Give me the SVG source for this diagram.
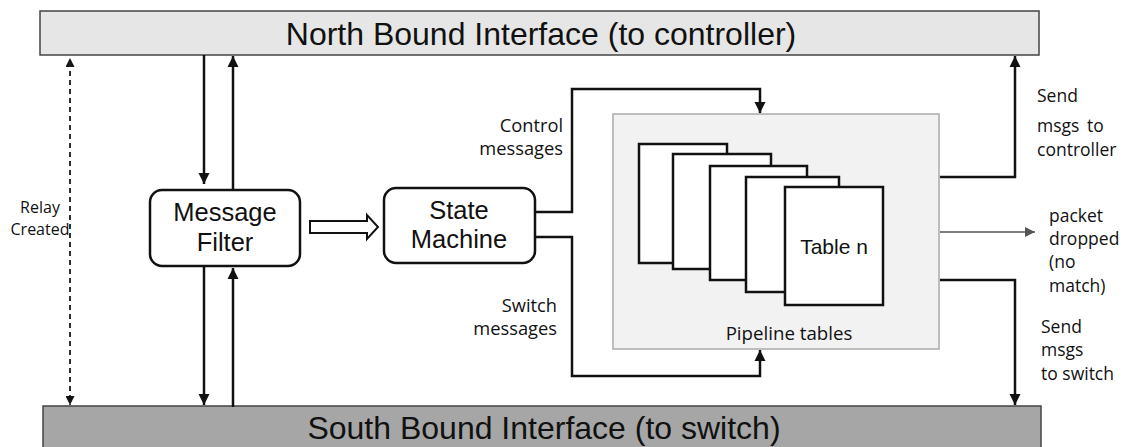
<svg xmlns="http://www.w3.org/2000/svg" width="1127" height="447" viewBox="0 0 1127 447">
<defs>
<style>
.bar-n{fill:#e6e6e6;stroke:#444;stroke-width:1.5}
.bar-s{fill:#a6a6a6;stroke:#444;stroke-width:1.5}
.title{font-family:"Liberation Sans",Arial,sans-serif;font-size:32px;fill:#111;text-anchor:middle}
.box{fill:#fff;stroke:#111;stroke-width:2.5}
.boxt{font-family:"Liberation Sans",Arial,sans-serif;font-size:25.5px;fill:#111;text-anchor:middle}
.lbl{font-family:"Open Sans","Noto Sans",sans-serif;font-size:17.5px;fill:#111}
.rl{font-size:16px;text-anchor:middle}
.ml{font-size:18.3px;text-anchor:end}
.ln{fill:none;stroke:#111;stroke-width:2.5}
.tbl{fill:#fff;stroke:#111;stroke-width:2.5}
</style>
<marker id="ah" viewBox="0 0 10 10" refX="10" refY="5" markerWidth="11" markerHeight="13" markerUnits="userSpaceOnUse" orient="auto">
<path d="M0,0 L10,5 L0,10 z" fill="#111"/>
</marker>
<marker id="ahs" viewBox="0 0 10 10" refX="10" refY="5" markerWidth="9" markerHeight="9" markerUnits="userSpaceOnUse" orient="auto">
<path d="M0,0 L10,5 L0,10 z" fill="#111"/>
</marker>
<marker id="ahg" viewBox="0 0 10 10" refX="10" refY="5" markerWidth="14" markerHeight="10" markerUnits="userSpaceOnUse" orient="auto">
<path d="M0,0 L10,5 L0,10 z" fill="#555"/>
</marker>
</defs>
<rect width="1127" height="447" fill="#fff"/>

<g id="north">
<rect class="bar-n" x="40" y="11" width="999" height="44"/>
<text class="title" x="541" y="45">North Bound Interface (to controller)</text>
</g>
<g id="south">
<rect class="bar-s" x="43" y="406" width="998" height="50"/>
<text class="title" x="544" y="439">South Bound Interface (to switch)</text>
</g>

<g id="relay">
<text class="lbl rl" x="40" y="213">Relay</text>
<text class="lbl rl" x="40" y="235">Created</text>
</g>

<g id="message-filter">
<rect class="box" x="150" y="190" width="150" height="76" rx="12"/>
<text class="boxt" x="225" y="221">Message</text>
<text class="boxt" x="225" y="251">Filter</text>
</g>

<g id="state-machine">
<rect class="box" x="384" y="188" width="151" height="75" rx="12"/>
<text class="boxt" x="459" y="219">State</text>
<text class="boxt" x="459" y="248">Machine</text>
</g>

<g id="pipeline">
<rect x="613" y="114" width="326" height="235" fill="#f2f2f2" stroke="#aaa" stroke-width="1.5"/>
<rect class="tbl" x="639" y="144" width="88" height="119"/>
<rect class="tbl" x="673" y="154" width="98" height="115"/>
<rect class="tbl" x="710" y="166" width="97" height="114"/>
<rect class="tbl" x="746" y="177" width="93" height="115"/>
<rect class="tbl" x="785" y="187" width="98" height="118"/>
<text x="834" y="254" font-family="Liberation Sans,Arial,sans-serif" font-size="21" fill="#111" text-anchor="middle">Table n</text>
<text class="lbl" x="789" y="340" style="font-size:18.7px;text-anchor:middle">Pipeline tables</text>
</g>

<g id="connectors">
<line x1="70" y1="400" x2="70" y2="58" stroke="#222" stroke-width="1.5" stroke-dasharray="5,4" marker-end="url(#ahs)"/>
<line x1="70" y1="62" x2="70" y2="405" stroke="#222" stroke-width="1.5" stroke-dasharray="5,4" marker-end="url(#ahs)"/>
<line class="ln" x1="204" y1="55" x2="204" y2="184" marker-end="url(#ah)"/>
<line class="ln" x1="233" y1="190" x2="233" y2="56" marker-end="url(#ah)"/>
<line class="ln" x1="204" y1="266" x2="204" y2="405" marker-end="url(#ah)"/>
<line class="ln" x1="233" y1="407" x2="233" y2="268" marker-end="url(#ah)"/>
<path d="M310,221 L367,221 L367,215 L378,227 L367,239 L367,233 L310,233 Z" fill="#fff" stroke="#111" stroke-width="2"/>
<path class="ln" d="M535,212 L572,212 L572,89 L760,89 L760,113" marker-end="url(#ah)"/>
<path class="ln" d="M535,237 L572,237 L572,376 L760,376 L760,350" marker-end="url(#ah)"/>
<path class="ln" d="M940,177 L1015,177 L1015,56" marker-end="url(#ah)"/>
<path class="ln" d="M940,280 L1015,280 L1015,405" marker-end="url(#ah)"/>
<line x1="940" y1="232" x2="1035" y2="232" stroke="#555" stroke-width="1.5" marker-end="url(#ahg)"/>
</g>

<g id="labels">
<text class="lbl ml" x="563" y="132">Control</text>
<text class="lbl ml" x="563" y="155">messages</text>
<text class="lbl ml" x="557" y="312">Switch</text>
<text class="lbl ml" x="557" y="335">messages</text>
<text class="lbl" x="1037" y="102">Send</text>
<text class="lbl" x="1037" y="132">msgs <tspan dx="3">to</tspan></text>
<text class="lbl" x="1037" y="156">controller</text>
<text class="lbl" x="1049" y="222">packet</text>
<text class="lbl" x="1049" y="245">dropped</text>
<text class="lbl" x="1049" y="268">(no</text>
<text class="lbl" x="1049" y="292">match)</text>
<text class="lbl" x="1041" y="333">Send</text>
<text class="lbl" x="1041" y="356">msgs</text>
<text class="lbl" x="1041" y="380">to switch</text>
</g>
</svg>
